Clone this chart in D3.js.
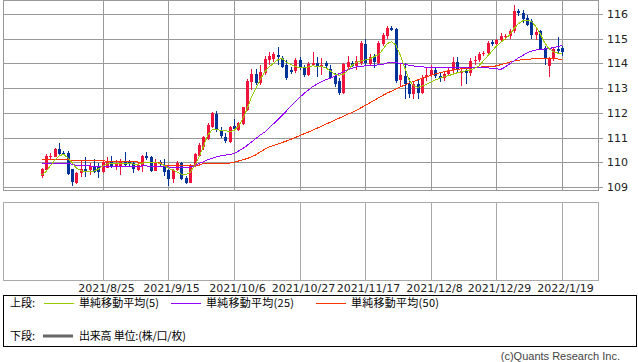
<!DOCTYPE html>
<html><head><meta charset="utf-8">
<script src="https://cdn.jsdelivr.net/npm/d3@7"></script>
<style>body{margin:0;background:#fff}svg{display:block}</style>
</head><body><svg id="c" width="638" height="362"></svg>
<script>
const open = [109.46,109.69,110.20,110.22,110.54,110.39,110.39,109.71,109.17,109.55,
109.73,109.69,109.82,109.86,109.59,109.78,110.02,109.86,109.86,110.00,
110.00,109.96,109.69,109.86,110.27,110.22,109.66,110.00,109.86,109.69,
109.32,109.69,109.96,109.38,109.17,109.86,110.27,110.63,110.93,111.44,
111.95,111.30,111.04,110.83,111.48,111.31,111.55,112.11,113.26,113.57,
113.22,113.62,114.14,114.17,114.34,114.21,113.94,113.73,113.70,114.14,
113.85,113.55,113.93,114.00,113.85,114.00,113.78,113.50,113.28,112.82,
113.86,114.03,113.89,114.03,114.77,113.96,114.26,114.00,114.77,115.11,
115.42,115.38,113.31,113.51,113.15,112.75,113.15,112.80,113.45,113.55,
113.72,113.49,113.40,113.56,113.73,114.05,113.62,113.70,113.60,114.08,
114.15,114.38,114.42,114.85,114.78,114.95,115.05,115.10,115.30,116.12,
116.05,115.82,115.70,115.15,115.30,114.62,113.90,114.18,114.58,114.62];
const high = [109.78,110.33,110.37,110.59,110.77,110.46,110.46,109.73,109.62,110.05,
110.22,109.96,110.13,109.96,110.09,110.22,110.25,110.09,110.12,110.43,
110.09,110.05,109.96,110.29,110.40,110.27,110.12,110.09,110.12,109.76,
109.73,110.05,110.00,109.44,109.92,110.36,110.77,111.08,111.58,112.02,
112.07,111.42,111.17,111.47,111.75,111.62,112.25,113.37,113.76,113.77,
113.94,114.29,114.45,114.47,114.68,114.30,114.14,113.87,114.21,114.25,
113.95,114.05,114.45,114.25,114.22,114.10,113.95,113.62,113.40,114.02,
114.30,114.10,114.30,114.91,114.97,114.40,114.40,114.92,115.25,115.52,
115.50,115.45,114.00,114.00,113.40,113.30,113.35,113.55,113.80,113.95,
113.85,113.65,113.70,113.80,114.25,114.25,113.85,113.80,114.20,114.30,
114.45,114.50,114.90,114.95,115.00,115.25,115.20,115.40,116.35,116.20,
116.15,115.95,115.80,115.45,115.35,114.70,114.25,114.65,115.05,114.70];
const low = [109.35,109.66,110.09,110.20,110.30,110.30,109.48,109.05,109.12,109.42,
109.42,109.48,109.55,109.38,109.55,109.76,109.76,109.69,109.48,109.82,
109.82,109.55,109.66,109.62,110.09,109.62,109.66,109.85,109.45,109.04,
109.17,109.65,109.28,109.12,109.15,109.82,110.22,110.50,110.90,111.37,
111.24,110.97,110.79,110.79,111.28,111.28,111.50,112.07,112.92,113.13,
113.12,113.52,113.95,114.05,113.94,113.80,113.33,113.56,113.60,113.75,
113.45,113.48,113.88,113.45,113.55,113.80,113.35,113.05,112.72,112.75,
113.75,113.85,113.75,113.95,113.95,113.90,113.80,113.98,114.70,115.00,
115.30,113.22,113.08,112.55,112.60,112.55,112.55,112.75,113.30,113.45,
113.40,113.25,113.30,113.50,113.60,113.60,113.10,113.15,113.50,113.95,
114.05,114.30,114.35,114.70,114.72,114.90,114.95,115.00,115.25,115.90,
115.65,115.50,115.00,114.95,114.55,113.95,113.45,114.10,114.40,114.30];
const close = [109.73,110.25,110.25,110.54,110.33,110.33,109.52,109.21,109.58,109.73,
109.66,109.86,109.59,109.59,110.02,110.05,109.82,109.93,110.00,109.89,
109.92,109.73,109.89,110.27,110.19,109.66,110.00,109.92,109.62,109.32,
109.69,109.96,109.32,109.17,109.86,110.32,110.70,111.01,111.51,111.98,
111.31,111.05,110.85,111.44,111.35,111.58,112.22,113.30,113.57,113.19,
113.66,114.17,114.31,114.39,114.24,113.87,113.40,113.66,114.14,113.85,
113.55,113.97,114.02,113.85,113.95,113.90,113.42,113.15,112.82,113.96,
114.05,113.89,114.09,114.84,114.03,114.26,114.05,114.84,115.15,115.42,
115.35,113.28,113.55,113.15,112.75,113.15,112.80,113.42,113.55,113.72,
113.49,113.40,113.56,113.73,114.05,113.73,113.70,113.60,114.08,114.15,
114.40,114.42,114.82,114.78,114.95,115.10,115.10,115.30,116.12,116.05,
115.80,115.55,115.15,115.28,114.60,114.20,114.20,114.60,114.52,114.48];
const ma5 = [109.48,109.62,109.85,110.08,110.25,110.33,110.18,109.98,109.76,109.66,
109.62,109.62,109.64,109.72,109.85,109.93,109.96,109.96,109.96,109.96,
109.95,109.93,109.92,109.96,110.00,110.00,110.00,109.96,109.88,109.76,
109.69,109.60,109.52,109.50,109.60,109.85,110.20,110.63,111.10,111.31,
111.32,111.30,111.28,111.25,111.28,111.45,111.75,112.15,112.65,113.00,
113.35,113.65,113.85,114.00,114.15,114.20,114.05,113.95,113.88,113.82,
113.82,113.86,113.90,113.88,113.87,113.82,113.70,113.57,113.52,113.56,
113.72,113.92,114.05,114.10,114.14,114.18,114.27,114.35,114.55,114.80,
114.88,114.75,114.35,113.85,113.35,113.10,113.03,113.08,113.15,113.25,
113.33,113.40,113.46,113.50,113.56,113.62,113.66,113.70,113.74,113.80,
113.90,114.10,114.30,114.50,114.70,114.85,115.00,115.15,115.40,115.60,
115.72,115.75,115.70,115.50,115.20,114.85,114.60,114.47,114.42,114.38];
const ma25 = [109.97,109.97,109.97,109.97,109.97,109.97,109.96,109.92,109.88,109.86,
109.85,109.85,109.84,109.84,109.83,109.83,109.83,109.83,109.83,109.83,
109.84,109.84,109.84,109.85,109.85,109.84,109.83,109.82,109.82,109.81,
109.80,109.80,109.80,109.80,109.81,109.85,109.95,110.02,110.10,110.16,
110.22,110.26,110.29,110.32,110.35,110.45,110.55,110.68,110.82,110.96,
111.10,111.22,111.38,111.55,111.72,111.90,112.08,112.26,112.45,112.62,
112.78,112.92,113.06,113.16,113.26,113.34,113.40,113.48,113.58,113.66,
113.74,113.80,113.86,113.88,113.90,113.91,113.92,113.94,113.96,114.02,
114.05,114.03,114.00,113.97,113.93,113.90,113.88,113.86,113.85,113.84,
113.83,113.83,113.83,113.83,113.83,113.83,113.83,113.83,113.83,113.83,
113.83,113.83,113.82,113.80,113.78,113.76,113.85,113.98,114.10,114.22,
114.32,114.42,114.50,114.54,114.56,114.58,114.60,114.64,114.68,114.72];
const ma50 = [110.11,110.11,110.11,110.11,110.11,110.11,110.11,110.07,110.07,110.07,
110.07,110.07,110.07,110.07,110.07,110.04,110.04,110.04,110.04,110.04,
110.04,110.04,110.01,110.01,110.01,110.01,110.01,110.01,109.88,109.88,
109.88,109.88,109.88,109.88,109.88,109.88,109.88,109.95,109.95,109.95,
109.95,109.95,109.95,109.97,110.00,110.05,110.10,110.15,110.22,110.30,
110.42,110.52,110.62,110.68,110.74,110.80,110.86,110.93,111.00,111.08,
111.15,111.22,111.30,111.38,111.46,111.54,111.62,111.70,111.78,111.86,
111.94,112.02,112.10,112.20,112.30,112.40,112.50,112.60,112.70,112.80,
112.88,112.96,113.05,113.12,113.20,113.27,113.33,113.40,113.46,113.52,
113.57,113.62,113.66,113.70,113.73,113.76,113.78,113.80,113.82,113.84,
113.85,113.86,113.87,113.88,113.90,113.95,114.00,114.05,114.10,114.13,
114.15,114.17,114.18,114.19,114.20,114.20,114.19,114.18,114.18,114.17];
const tickIndex = [14,29,44,59,74,89,104,119];
const tickLabels = ["2021/8/25","2021/9/15","2021/10/6","2021/10/27","2021/11/17","2021/12/8","2021/12/29","2022/1/19"];
const yTicks = [109,110,111,112,113,114,115,116];

const svg = d3.select("#c");
const L = 3, R = 598, T = 0, B = 190;
const x = d3.scaleLinear().domain([0, close.length - 1]).range([41.5, 562]);
const y = d3.scaleLinear().domain([109, 116]).range([187, 14]);
const grid = "#999";

// main frame & grid
const g = svg.append("g");
g.append("rect").attr("x", L + .5).attr("y", T + .5).attr("width", R - L).attr("height", B - T)
  .attr("fill", "none").attr("stroke", grid);
yTicks.forEach(t => {
  const yy = Math.round(y(t)) + .5;
  g.append("line").attr("x1", L).attr("x2", R + 5).attr("y1", yy).attr("y2", yy).attr("stroke", grid);
  g.append("text").attr("x", 607).attr("y", yy).attr("dy", "0.36em")
    .attr("font-family", "DejaVu Sans").attr("font-size", 11).attr("fill", "#222").text(t);
});
tickIndex.forEach(i => {
  const xx = Math.round(x(i)) + .5;
  g.append("line").attr("x1", xx).attr("x2", xx).attr("y1", T).attr("y2", B).attr("stroke", grid);
});

// candles
const UP = "#f0143c", DN = "#003399";
const cg = svg.append("g").attr("shape-rendering", "crispEdges");
close.forEach((c, i) => {
  const o = open[i], cx = Math.round(x(i));
  const col = c >= o ? UP : DN;
  cg.append("line").attr("x1", cx + .5).attr("x2", cx + .5)
    .attr("y1", y(high[i])).attr("y2", y(low[i])).attr("stroke", col);
  const y1 = y(Math.max(o, c)), y2 = y(Math.min(o, c));
  cg.append("rect").attr("x", cx - 1).attr("width", 3)
    .attr("y", y1).attr("height", Math.max(1, y2 - y1)).attr("fill", col);
});

// moving averages
const line = d3.line().x((d, i) => x(i)).y(d => y(d));
[[ma50, "#ff3300"], [ma25, "#9900ff"], [ma5, "#99cc00"]].forEach(([arr, col]) => {
  svg.append("path").datum(arr).attr("d", line).attr("fill", "none")
    .attr("stroke", col).attr("stroke-width", 1).attr("shape-rendering", "crispEdges");
});

// lower panel
const lg = svg.append("g");
lg.append("rect").attr("x", L + .5).attr("y", 202.5).attr("width", R - L).attr("height", 78)
  .attr("fill", "none").attr("stroke", "#aaa");
tickIndex.forEach((i, k) => {
  const xx = Math.round(x(i)) + .5;
  lg.append("line").attr("x1", xx).attr("x2", xx).attr("y1", 202).attr("y2", 280).attr("stroke", "#aaa");
  lg.append("text").attr("x", xx + 3).attr("y", 292).attr("text-anchor", "middle")
    .attr("font-family", "DejaVu Sans").attr("font-size", 11).attr("fill", "#222").text(tickLabels[k]);
});

// legend box
const jp = "'Noto Sans CJK JP', sans-serif";
svg.append("rect").attr("x", 3.5).attr("y", 295.5).attr("width", 633).attr("height", 51)
  .attr("fill", "none").attr("stroke", "#000");
function jtext(x0, y0, t, len) {
  const s = svg.append("text").attr("x", x0).attr("y", y0).attr("dy", "0.36em").attr("font-family", jp)
    .attr("font-size", 11).text(t);
  if (len) s.attr("textLength", len).attr("lengthAdjust", "spacing");
}
const leg = [["#99cc00", 44, "単純移動平均(5)", 80], ["#9900ff", 171, "単純移動平均(25)", 88], ["#ff3300", 316, "単純移動平均(50)", 88]];
jtext(10, 303, "上段:");
leg.forEach(([col, x0, t, len]) => {
  svg.append("line").attr("x1", x0).attr("x2", x0 + 30).attr("y1", 303.5).attr("y2", 303.5).attr("stroke", col);
  jtext(x0 + 35, 303, t, len);
});
jtext(10, 336, "下段:");
svg.append("line").attr("x1", 43).attr("x2", 73).attr("y1", 336).attr("y2", 336).attr("stroke", "#666").attr("stroke-width", 3);
jtext(79, 336, "出来高 単位:(株/口/枚)", 107);
svg.append("text").attr("x", 620).attr("y", 360).attr("text-anchor", "end")
  .attr("font-family", "Liberation Sans").attr("font-size", 11).attr("fill", "#444").text("(c)Quants Research Inc.");
</script></body></html>
